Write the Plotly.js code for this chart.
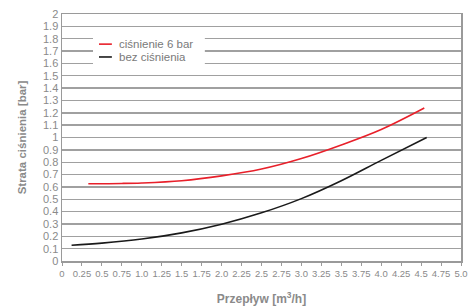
<!DOCTYPE html>
<html><head><meta charset="utf-8">
<script src="https://cdn.plot.ly/plotly-3.0.1.min.js"></script>
<style>html,body{margin:0;padding:0;background:#fff}</style>
</head><body><div id="chart" style="width:473px;height:306px"></div>
<script>
const redX = [0.33, 0.75, 1.0, 1.5, 2.0, 2.5, 3.0, 3.5, 4.0, 4.54];
const redY = [0.626, 0.628, 0.632, 0.65, 0.689, 0.745, 0.83, 0.94, 1.065, 1.239];
const blackX = [0.12, 0.5, 1.0, 1.5, 2.0, 2.5, 3.0, 3.5, 4.0, 4.57];
const blackY = [0.128, 0.145, 0.178, 0.228, 0.298, 0.39, 0.505, 0.65, 0.815, 1.0];
const seriesNames = ["ciśnienie 6 bar", "bez ciśnienia"];
const seriesColors = ["#e8202a", "#1a1a1a"];
const xTickVals = [0,0.25,0.5,0.75,1,1.25,1.5,1.75,2,2.25,2.5,2.75,3,3.25,3.5,3.75,4,4.25,4.5,4.75,5];
const xTickText = ["0","0.25","0.5","0.75","1.0","1.25","1.5","1.75","2.0","2.25","2.5","2.75","3.0","3.25","3.5","3.75","4.0","4.25","4.5","4.75","5.0"];
const yTickVals = [0,0.1,0.2,0.3,0.4,0.5,0.6,0.7,0.8,0.9,1,1.1,1.2,1.3,1.4,1.5,1.6,1.7,1.8,1.9,2];
const yTickText = ["0","0.1","0.2","0.3","0.4","0.5","0.6","0.7","0.8","0.9","1","1.1","1.2","1.3","1.4","1.5","1.6","1.7","1.8","1.9","2"];

const font = "'Liberation Sans', Arial, sans-serif";
const traces = [
  {x: redX, y: redY, name: seriesNames[0], mode: "lines", showlegend: false, line: {color: seriesColors[0], width: 1.6, shape: "spline"}},
  {x: blackX, y: blackY, name: seriesNames[1], mode: "lines", showlegend: false, line: {color: seriesColors[1], width: 1.6, shape: "spline"}}
];
// manual legend (box, sample lines, texts) in paper coordinates
const legRows = [0.878, 0.826];
const shapes = [
  {type: "rect", xref: "paper", yref: "paper", x0: 0.0777, x1: 0.358, y0: 0.781, y1: 0.923,
   fillcolor: "#fff", line: {width: 0}, layer: "above"}
];
const annotations = [];
seriesNames.forEach((n, i) => {
  shapes.push({type: "line", xref: "paper", yref: "paper", x0: 0.0927, x1: 0.125, y0: legRows[i], y1: legRows[i],
               line: {color: seriesColors[i], width: 1.6}, layer: "above"});
  annotations.push({xref: "paper", yref: "paper", x: 0.137, y: legRows[i], xanchor: "left", yanchor: "middle",
                    text: n, showarrow: false, font: {family: font, size: 11.5, color: "#7a7a7a"}});
});
const layout = {
  width: 473, height: 306,
  margin: {l: 62, r: 12, t: 14, b: 45},
  paper_bgcolor: "#fff", plot_bgcolor: "#fff",
  font: {family: font, color: "#8a8a8a", size: 12},
  showlegend: false,
  shapes: shapes, annotations: annotations,
  xaxis: {range: [0, 5], tickvals: xTickVals, ticktext: xTickText, showgrid: false,
          showline: true, linecolor: "#9a9a9a", linewidth: 1.5, mirror: true,
          ticks: "outside", ticklen: 3, tickcolor: "#9a9a9a", tickangle: 0,
          tickfont: {size: 9.5, color: "#8a8a8a"}, zeroline: false,
          title: {text: "Przepływ [m<sup>3</sup>/h]", font: {family: font, size: 12, color: "#8a8a8a", weight: 600}, standoff: 20}},
  yaxis: {range: [0, 2], tickvals: yTickVals, ticktext: yTickText, showgrid: true,
          gridcolor: "#a0a0a0", gridwidth: 1.4, showline: true, linecolor: "#9a9a9a", linewidth: 1.5, mirror: true,
          ticks: "", tickfont: {size: 11, color: "#8a8a8a"}, zeroline: false,
          title: {text: "Strata ciśnienia [bar]", font: {family: font, size: 11.5, color: "#8a8a8a", weight: 600}, standoff: 14}}
};
Plotly.newPlot("chart", traces, layout, {displayModeBar: false, staticPlot: true});
</script></body></html>
